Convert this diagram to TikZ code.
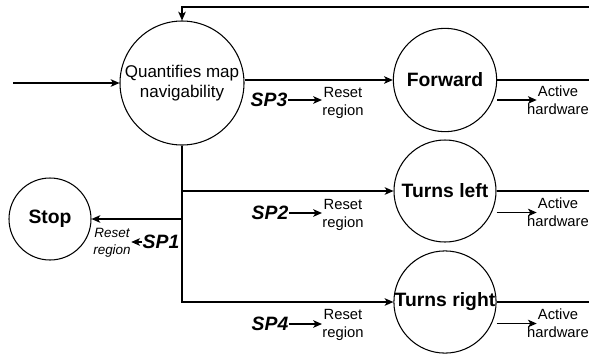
\documentclass[tikz,border=0pt]{standalone}
\usepackage{fontspec}
\setmainfont{Liberation Sans}
\usetikzlibrary{calc, arrows.meta}

\begin{document}
\begin{tikzpicture}[x=0.03cm, y=-0.03cm, line width=0.9pt,
  state/.style={draw, circle, inner sep=0pt, align=center, font=\fontsize{16.5}{19}\selectfont\bfseries},
  sp/.style={inner sep=0pt, font=\fontsize{16.5}{19}\selectfont\bfseries\itshape},
  note/.style={align=center, inner sep=0pt, font=\fontsize{12.6}{15.3}\selectfont},
  arr/.style={-{Stealth[length=7.5pt, width=6.5pt, inset=2pt]}}]

% Page frame
\useasboundingbox (0,0) rectangle (589,356);

% States
\node[state, minimum size=3.72cm, font=\fontsize{14.5}{17.5}\selectfont] (quant) at (182,83) {Quantifies map\\navigability};
\node[state, minimum size=3.1cm] (fwd) at (445,80) {Forward};
\node[state, minimum size=3.06cm] (tleft) at (445,191) {Turns left};
\node[state, minimum size=3.04cm] (tright) at (445,302) {Turns right};
\node[state, minimum size=2.46cm] (stop) at (50,219) {Stop};

% Free ends
\coordinate (entry) at (13,83);
\coordinate (loop) at (600,7);

% Entry and feedback loop
\draw[arr] (entry) -- (quant);
\draw[arr] (loop) -| (quant.north);

% Signals
\node[sp] (sp3) at (269,100) {SP3};
\node[sp] (sp2) at (270,213) {SP2};
\node[sp] (sp4) at (270,324) {SP4};
\node[sp] (sp1) at (161,242) {SP1};

% Notes
\node[note] (rsF) at (343,103) {Reset\\region};
\node[note] (rsL) at (343,215) {Reset\\region};
\node[note] (rsR) at (343,325) {Reset\\region};
\node[note, font=\fontsize{11.5}{14.5}\selectfont\itshape] (rsS) at (112,243) {Reset\\region};
\node[note] (hwF) at (558,100) {Active\\hardware};
\node[note] (hwL) at (558,212.5) {Active\\hardware};
\node[note] (hwR) at (558,323.5) {Active\\hardware};

% Branches
\draw[arr] (quant.east |- fwd.west) -- (fwd.west);
\draw[arr] (quant.south) |- (tleft.west);
\draw[arr] (quant.south) |- (tright.west);
\draw[arr] (quant.south |- stop.east) -- (stop.east);

% Outputs
\foreach \s/\h in {fwd/hwF, tleft/hwL, tright/hwR} {
  \draw (\s.east) -- (\s.east -| loop);
  \draw[arr] (\s.east |- \h.west) -- ($(\h.west)+(10,0)$);
}

% Signal arrows
\foreach \p/\r in {sp3/rsF, sp2/rsL, sp4/rsR}
  \draw[arr] (\p.east) -- (\p.east -| \r.west);
\draw[arr] (sp1.west) -- (sp1.west -| rsS.east);

\end{tikzpicture}
\end{document}
